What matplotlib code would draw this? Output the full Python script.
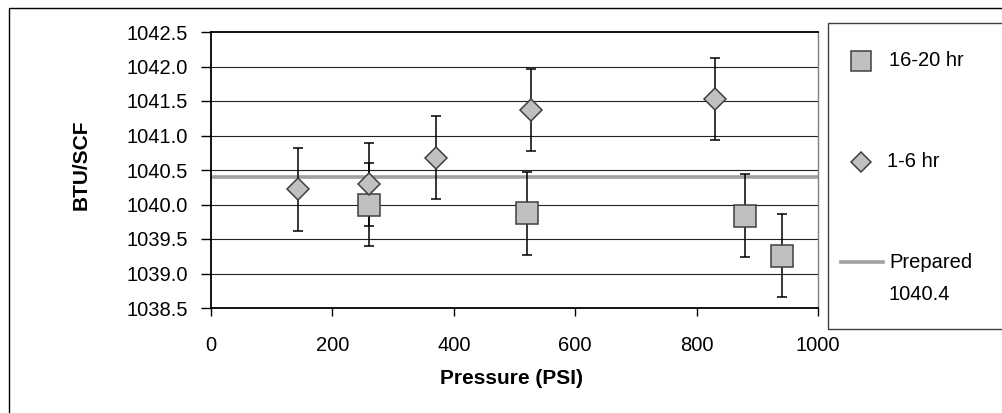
import matplotlib
matplotlib.use("Agg")
import matplotlib.pyplot as plt
from matplotlib.patches import Rectangle
from matplotlib.lines import Line2D
import numpy as np

# ---- data ----
x_short = [143, 260, 370, 528, 831]            # 1-6 hr
y_short = [1040.22, 1040.29, 1040.68, 1041.37, 1041.53]
e_short = [0.6, 0.6, 0.6, 0.6, 0.6]

x_long = [260, 520, 879, 940]                  # 16-20 hr
y_long = [1040.00, 1039.87, 1039.84, 1039.26]
e_long = [0.6, 0.6, 0.6, 0.6]

prepared = 1040.4
y_ticks = [1038.5, 1039.0, 1039.5, 1040.0, 1040.5, 1041.0, 1041.5, 1042.0, 1042.5]
x_ticks = [0, 200, 400, 600, 800, 1000]
labels = ["16-20 hr", "1-6 hr", "Prepared\n1040.4"]

W, H = 1002, 413
plt.rcParams['font.family'] = ['Liberation Sans', 'DejaVu Sans']

fig = plt.figure(figsize=(W / 100, H / 100), dpi=100)

def fx(px):
    return px / W

def fy(py):
    return 1 - py / H

L, R, T, B = 211, 818, 32, 308
ax = fig.add_axes([fx(L), fy(B), fx(R) - fx(L), fy(T) - fy(B)])

face = '#c0c0c0'
edge = '#404040'
gray_line = '#a0a0a0'

# gridlines
for yt in y_ticks[1:-1]:
    ax.axhline(yt, color='#222222', lw=0.8, zorder=1)

ax.axhline(prepared, color=gray_line, lw=2.6, zorder=2)

ax.errorbar(x_long, y_long, yerr=e_long, fmt='none', ecolor='black',
            elinewidth=1.1, capsize=3.8, capthick=1.1, zorder=3)
ax.errorbar(x_short, y_short, yerr=e_short, fmt='none', ecolor='black',
            elinewidth=1.1, capsize=3.8, capthick=1.1, zorder=3)
ax.plot(x_long, y_long, linestyle='none', marker='s', ms=16.0,
        mfc=face, mec=edge, mew=1.1, zorder=4)
ax.plot(x_short, y_short, linestyle='none', marker='D', ms=11.0,
        mfc=face, mec=edge, mew=1.1, zorder=5)

ax.set_xlim(0, 1000)
ax.set_ylim(1038.5, 1042.5)
ax.set_xticks(x_ticks)
ax.set_xticklabels([str(v) for v in x_ticks])
ax.set_yticks(y_ticks)
ax.set_yticklabels([f"{v:.1f}" for v in y_ticks])

ax.tick_params(axis='y', direction='out', length=7.2, width=1.0,
               labelsize=14.5, pad=9.4, colors='black')
ax.tick_params(axis='x', direction='out', length=6.0, width=1.0,
               labelsize=14.5, pad=14.0, colors='black')

for s in ['left', 'bottom', 'top']:
    ax.spines[s].set_color('black')
    ax.spines[s].set_linewidth(1.3)
ax.spines['right'].set_color('#808080')
ax.spines['right'].set_linewidth(1.0)

ax.set_xlabel("Pressure (PSI)", fontsize=15, fontweight='bold')
ax.xaxis.set_label_coords((512 - L) / (R - L), (B - 369) / (B - T))
ax.set_ylabel("BTU/SCF", fontsize=15, fontweight='bold')
ax.yaxis.set_label_coords((91 - L) / (R - L), 0.52)

# outer frame
fig.add_artist(Rectangle((fx(9), -0.05), 1.2, fy(8) + 0.05, transform=fig.transFigure,
                         fill=False, ec='black', lw=1.0))
# legend box
fig.add_artist(Rectangle((fx(828), fy(329)), 1.2, fy(23) - fy(329), transform=fig.transFigure,
                         fill=False, ec='#404040', lw=1.0))

# legend entries
fig.add_artist(Line2D([fx(861)], [fy(61)], transform=fig.transFigure, marker='s', ms=14.0,
                      mfc=face, mec=edge, mew=1.1, linestyle='none'))
fig.text(fx(889), fy(66), labels[0], fontsize=14.5, va='baseline', ha='left')

fig.add_artist(Line2D([fx(861)], [fy(162)], transform=fig.transFigure, marker='D', ms=10.0,
                      mfc=face, mec=edge, mew=1.1, linestyle='none'))
fig.text(fx(887), fy(167), labels[1], fontsize=14.5, va='baseline', ha='left')

fig.add_artist(Line2D([fx(841), fx(883)], [fy(262), fy(262)], transform=fig.transFigure,
                      color=gray_line, lw=2.6))
p1, p2 = labels[2].split("\n")
fig.text(fx(889), fy(268), p1, fontsize=14.5, va='baseline', ha='left')
fig.text(fx(889), fy(300), p2, fontsize=14.5, va='baseline', ha='left')

fig.savefig("out.png", dpi=100)
